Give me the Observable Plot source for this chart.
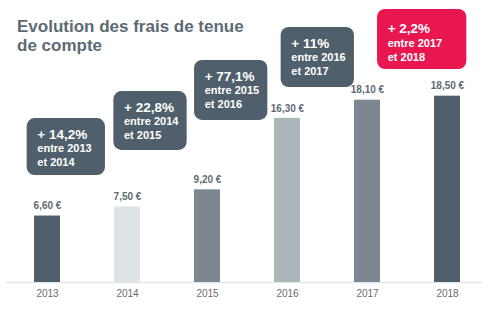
<!DOCTYPE html>
<html><head><meta charset="utf-8">
<script src="https://cdn.jsdelivr.net/npm/d3@7"></script>
<script src="https://cdn.jsdelivr.net/npm/@observablehq/plot@0.6"></script>
<style>
body{margin:0;background:#fff;font-family:"Liberation Sans",Arial,sans-serif;}
#wrap{position:relative;width:493px;height:324px;}
#title{position:absolute;left:17px;top:18px;font-size:17px;line-height:18.5px;font-weight:bold;color:#5c6a74;margin:0;}
</style></head>
<body><div id="wrap"><div id="title">Evolution des frais de tenue<br>de compte</div></div>
<script>
// data
const years = ["2013","2014","2015","2016","2017","2018"];
const fees = [6.60, 7.50, 9.20, 16.30, 18.10, 18.50];
const changePct = [14.2, 22.8, 77.1, 11, 2.2];
const changeFrom = ["2013","2014","2015","2016","2017"];
const changeTo = ["2014","2015","2016","2017","2018"];

// styles / layout
const barColors = ["#4f5f6b","#dce4e5","#7b8791","#a9b6ba","#7b8792","#4f606c"];
const W = 493, H = 324, mL = 6, mR = 5, mB = 42;
const padIn = 0.68;
const step = (W - mL - mR) / years.length;
const bw = step * (1 - padIn);
const boxLayout = [
  {anchor:"2013", dx:18.8, w:78, top:16.28, bottom:10.62, fill:"#4f5f6b", l1:16, l2:30},
  {anchor:"2014", dx:23.0, w:73, top:18.96, bottom:13.11, fill:"#4f5f6b", l1:16, l2:30},
  {anchor:"2015", dx:23.7, w:73, top:22.04, bottom:16.09, fill:"#4f5f6b", l1:16, l2:30},
  {anchor:"2016", dx:30.3, w:73, top:25.32, bottom:19.36, fill:"#4f5f6b", l1:16, l2:30},
  {anchor:"2018", dx:-25.3, w:89, top:27.11, bottom:21.15, fill:"#e8174f", l1:19, l2:34}
];

const fmtEuro = v => v.toFixed(2).replace(".", ",") + " €";
const fmtPct = v => "+ " + String(v).replace(".", ",") + "%";

const barData = years.map((y, i) => ({year: y, fee: fees[i], color: barColors[i]}));
const boxes = changePct.map((p, i) => ({...boxLayout[i], pct: fmtPct(p), from: "entre " + changeFrom[i], to: "et " + changeTo[i]}));

const boxMarks = boxes.flatMap(b => {
  const inset = (bw - b.w) / 2;
  const textDx = b.dx - b.w / 2 + 10;
  const common = {x: "anchor", y: "top", dx: textDx, textAnchor: "start", lineAnchor: "middle", fill: "white", fontWeight: "bold"};
  return [
    Plot.barY([b], {x: "anchor", y1: "bottom", y2: "top", fill: b.fill, dx: b.dx, insetLeft: inset, insetRight: inset, rx: 8}),
    Plot.text([b], {...common, text: "pct", dy: b.l1, fontSize: 13.5}),
    Plot.text([b], {...common, text: "from", dy: b.l2, fontSize: 11}),
    Plot.text([b], {...common, text: "to", dy: b.l2 + 14, fontSize: 11})
  ];
});

const chart = Plot.plot({
  width: W, height: H,
  marginLeft: mL, marginRight: mR, marginTop: 0, marginBottom: mB,
  style: {fontFamily: '"Liberation Sans", Arial, sans-serif', background: "white"},
  x: {domain: years, paddingInner: padIn, paddingOuter: padIn / 2, label: null},
  y: {domain: [0, 28], axis: null},
  marks: [
    Plot.ruleY([0], {stroke: "#e3e7e9", strokeWidth: 1.5, insetRight: 6}),
    Plot.barY(barData, {x: "year", y: "fee", fill: "color"}),
    Plot.text(barData, {x: "year", y: "fee", text: d => fmtEuro(d.fee), dy: -10, fill: "#5e6a73", fontSize: 10, fontWeight: "bold"}),
    Plot.axisX({tickSize: 0, tickPadding: 7, fontSize: 10, color: "#6b6b6b", label: null}),
    ...boxMarks
  ]
});
document.getElementById("wrap").prepend(chart);
chart.style.position = "absolute";
chart.style.left = "0";
chart.style.top = "0";
</script>
</body></html>
